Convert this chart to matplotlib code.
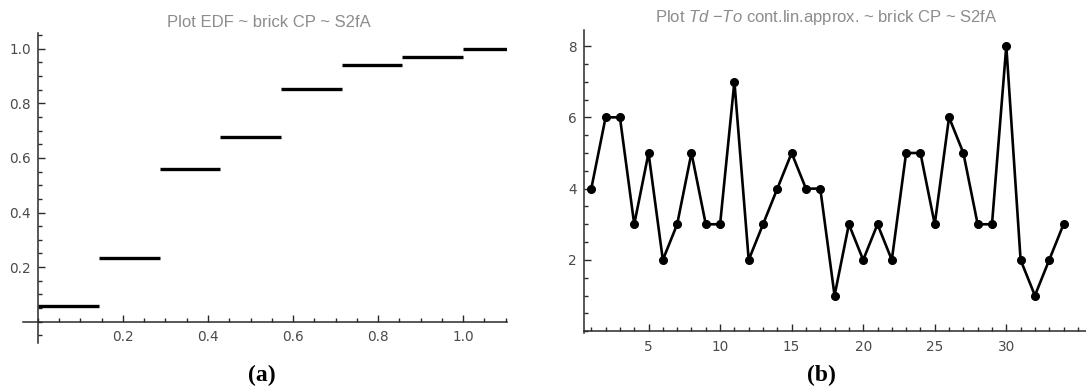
import matplotlib
matplotlib.use("Agg")
import matplotlib.pyplot as plt
from matplotlib.ticker import MultipleLocator, FixedLocator

# EDF steps (left panel): step edges on x and level of each step
edf_edges = [0.0, 0.143, 0.286, 0.429, 0.571, 0.714, 0.857, 1.0, 1.103]
edf_levels = [0.059, 0.235, 0.559, 0.676, 0.853, 0.941, 0.971, 1.0]

# Td - To series (right panel)
idx = list(range(1, 35))
td_to = [4, 6, 6, 3, 5, 2, 3, 5, 3, 3, 7, 2, 3, 4, 5, 4, 4, 1, 3, 2,
         3, 2, 5, 5, 3, 6, 5, 3, 3, 8, 2, 1, 2, 3]

left_xticks = [0.2, 0.4, 0.6, 0.8, 1.0]
left_yticks = [0.2, 0.4, 0.6, 0.8, 1.0]
right_xticks = [5, 10, 15, 20, 25, 30]
right_yticks = [2, 4, 6, 8]

title_col = '#8c8c8c'
tick_col = '#4a4a4a'
axis_col = '#2a2a2a'

plt.rcParams['font.family'] = ['Liberation Sans', 'DejaVu Sans']
plt.rcParams['mathtext.fontset'] = 'custom'
plt.rcParams['mathtext.it'] = 'Liberation Sans:italic'
plt.rcParams['mathtext.rm'] = 'Liberation Sans'

fig = plt.figure(figsize=(10.86, 3.89), dpi=100)

ax1 = fig.add_axes([23 / 1086, 1 - 343 / 389, (507 - 23) / 1086, (343 - 33) / 389])
ax2 = fig.add_axes([584 / 1086, 1 - 333 / 389, 1 - 584 / 1086, (333 - 30) / 389])


def style(ax):
    for s in ['top', 'right']:
        ax.spines[s].set_visible(False)
    for s in ['left', 'bottom']:
        ax.spines[s].set_color(axis_col)
        ax.spines[s].set_linewidth(1.1)
    ax.tick_params(which='both', direction='in', colors=axis_col, labelcolor=tick_col,
                   labelsize=9.8, width=1.0)
    ax.tick_params(which='major', length=5)
    ax.tick_params(which='minor', length=3)
    ax.tick_params(axis='x', pad=6)
    ax.tick_params(axis='y', pad=5)
    for lab in ax.get_xticklabels() + ax.get_yticklabels():
        lab.set_family('DejaVu Sans')
    ax.patch.set_alpha(0)


# (a) EDF
for i, lev in enumerate(edf_levels):
    ax1.plot([edf_edges[i], edf_edges[i + 1]], [lev, lev], color='black', lw=2.4,
             solid_capstyle='butt')
ax1.set_xlim(-0.035, 1.103)
ax1.set_ylim(-0.078, 1.058)
ax1.spines['left'].set_position(('data', 0))
ax1.spines['bottom'].set_position(('data', 0))
ax1.xaxis.set_major_locator(FixedLocator(left_xticks))
ax1.xaxis.set_minor_locator(MultipleLocator(0.05))
ax1.yaxis.set_major_locator(FixedLocator(left_yticks))
ax1.yaxis.set_minor_locator(MultipleLocator(0.05))
ax1.set_xticklabels([f'{v:.1f}' for v in left_xticks])
ax1.set_yticklabels([f'{v:.1f}' for v in left_yticks])
style(ax1)
ax1.set_title('Plot EDF ~ brick CP ~ S2fA', color=title_col, fontsize=12, pad=4, x=0.508)

# (b) Td - To
ax2.plot(idx, td_to, color='black', lw=1.9, marker='o', ms=5.5, clip_on=False)
ax2.set_xlim(0.49, 35.57)
ax2.set_ylim(-0.05, 8.45)
ax2.spines['bottom'].set_position(('data', 0))
ax2.xaxis.set_major_locator(FixedLocator(right_xticks))
ax2.xaxis.set_minor_locator(MultipleLocator(1))
ax2.yaxis.set_major_locator(FixedLocator(right_yticks))
ax2.yaxis.set_minor_locator(MultipleLocator(0.5))
ax2.set_xticklabels([str(v) for v in right_xticks])
ax2.set_yticklabels([str(v) for v in right_yticks])
style(ax2)
ax2.set_title('Plot $\\mathit{Td}$ \u2212$\\mathit{To}$ cont.lin.approx. ~ brick CP ~ S2fA',
              color=title_col, fontsize=12, pad=6, x=0.483)

fig.text(262 / 1086, 1 - 375 / 389, '(a)', ha='center', va='center',
         family='Liberation Serif', fontweight='bold', fontsize=17)
fig.text(821 / 1086, 1 - 375 / 389, '(b)', ha='center', va='center',
         family='Liberation Serif', fontweight='bold', fontsize=17)

fig.savefig('out.png', dpi=100)
